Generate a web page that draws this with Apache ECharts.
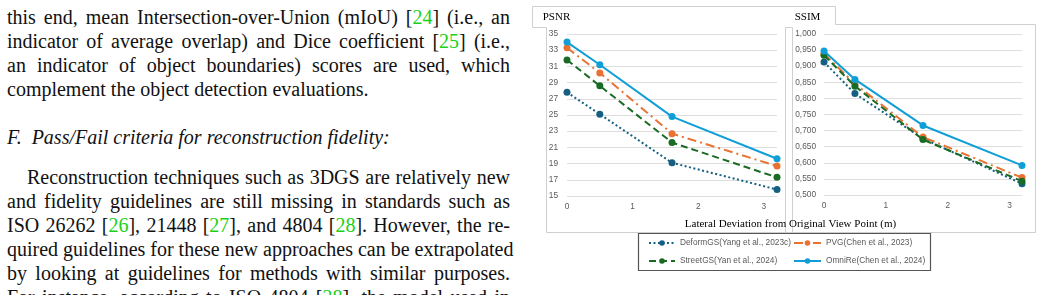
<!DOCTYPE html>
<html>
<head>
<meta charset="utf-8">
<script src="https://cdn.jsdelivr.net/npm/echarts@6/dist/echarts.min.js"></script>
<style>
  html, body { margin:0; padding:0; width:1042px; height:295px; overflow:hidden; background:#fff; }
  #text { position:absolute; left:7px; top:0; width:503px; height:295px; font-family:"Liberation Serif","Times New Roman",serif; font-size:20px; color:#111; }
  .ln { position:absolute; left:0; width:503px; height:24px; line-height:24px; white-space:nowrap; text-align:justify; text-align-last:justify; }
  .last { text-align:left; text-align-last:left; }
  .ind { padding-left:20px; width:483px; }
  .c { color:#19d119; }
  #chart { position:absolute; left:520px; top:0; width:522px; height:295px; }
</style>
</head>
<body>
<div id="text">
  <div class="ln" style="top:5px">this end, mean Intersection-over-Union (mIoU) [<span class="c">24</span>] (i.e., an</div>
  <div class="ln" style="top:29px">indicator of average overlap) and Dice coefficient [<span class="c">25</span>] (i.e.,</div>
  <div class="ln" style="top:53px">an indicator of object boundaries) scores are used, which</div>
  <div class="ln last" style="top:77px">complement the object detection evaluations.</div>
  <div class="ln last" style="top:125px"><i>F.&nbsp; Pass/Fail criteria for reconstruction fidelity:</i></div>
  <div class="ln ind" style="top:165px">Reconstruction techniques such as 3DGS are relatively new</div>
  <div class="ln" style="top:189px">and fidelity guidelines are still missing in standards such as</div>
  <div class="ln" style="top:213px">ISO 26262 [<span class="c">26</span>], 21448 [<span class="c">27</span>], and 4804 [<span class="c">28</span>]. However, the re-</div>
  <div class="ln" style="top:237px">quired guidelines for these new approaches can be extrapolated</div>
  <div class="ln" style="top:261px">by looking at guidelines for methods with similar purposes.</div>
  <div class="ln" style="top:285px">For instance, according to ISO 4804 [<span class="c">28</span>], the model used in</div>
</div>
<div id="chart"></div>
<script>
// ---- data ----
const xValues = [0, 0.5, 1.6, 3.2];
const seriesNames = ['DeformGS(Yang et al., 2023c)', 'PVG(Chen et al., 2023)', 'StreetGS(Yan et al., 2024)', 'OmniRe(Chen et al., 2024)'];
const psnrDeform = [27.8, 25.1, 19.1, 15.8];
const psnrPVG    = [33.3, 30.2, 22.7, 18.7];
const psnrStreet = [31.8, 28.6, 21.6, 17.3];
const psnrOmni   = [34.0, 31.2, 24.8, 19.6];
const ssimDeform = [0.913, 0.815, 0.675, 0.535];
const ssimPVG    = [0.939, 0.845, 0.680, 0.554];
const ssimStreet = [0.934, 0.838, 0.672, 0.543];
const ssimOmni   = [0.947, 0.859, 0.716, 0.592];
const xTicks = [0, 1, 2, 3];
const panelTitles = ['PSNR', 'SSIM'];
const xAxisTitle = 'Lateral Deviation from Original View Point (m)';

// ---- styles ----
const colors = ['#156082', '#E97132', '#196B24', '#0F9ED5'];
const dashes = [[2, 2.5], [9, 4, 2, 4], [7, 4], 'solid'];
const labelFont = { color:'#595959', fontFamily:'Liberation Sans, Arial, sans-serif', fontSize:8.3 };
const frameColor = '#cfcfcf';

function pairs(vals){ return xValues.map((x,i)=>[x, vals[i]]); }

const psnrData = [psnrDeform, psnrPVG, psnrStreet, psnrOmni];
const ssimData = [ssimDeform, ssimPVG, ssimStreet, ssimOmni];

const series = [];
[psnrData, ssimData].forEach((group, gi) => {
  group.forEach((vals, si) => {
    series.push({
      name: seriesNames[si], type:'line', xAxisIndex:gi, yAxisIndex:gi,
      data: pairs(vals), symbol:'circle', symbolSize:7, showSymbol:true,
      lineStyle:{ color:colors[si], width:2, type:dashes[si] },
      itemStyle:{ color:colors[si] },
      emphasis:{ disabled:true }, z: 2 + si
    });
  });
});

function xAxisCfg(gi){
  return {
    type:'value', gridIndex:gi, min:0, max:3.2, interval:1,
    axisLine:{show:false}, axisTick:{show:false}, splitLine:{show:false},
    axisLabel:{ ...labelFont, margin:7, formatter: v => xTicks.includes(v) ? String(v) : '' , showMaxLabel:false }
  };
}

const option = {
  animation:false,
  grid:[
    { left:47, top:34, width:210, height:162 },
    { left:304, top:34, width:198, height:161 }
  ],
  xAxis:[ xAxisCfg(0), xAxisCfg(1) ],
  yAxis:[
    { type:'value', gridIndex:0, min:15, max:35, interval:2,
      axisLine:{show:false}, axisTick:{show:false},
      splitLine:{ lineStyle:{ color:'#dedede', width:1 } },
      axisLabel:{ ...labelFont, margin:9 } },
    { type:'value', gridIndex:1, min:0.5, max:1.0, interval:0.05,
      axisLine:{show:false}, axisTick:{show:false},
      splitLine:{ lineStyle:{ color:'#dedede', width:1 } },
      axisLabel:{ ...labelFont, margin:8, formatter: v => v.toFixed(3).replace('.', ',') } }
  ],
  legend:[
    { data:[seriesNames[0], seriesNames[2]], orient:'vertical', left:128, top:238, padding:0,
      itemWidth:26, itemHeight:7, itemGap:8, textStyle:{ ...labelFont, lineHeight:10 }, selectedMode:false },
    { data:[seriesNames[1], seriesNames[3]], orient:'vertical', left:273, top:238, padding:0,
      itemWidth:27, itemHeight:7, itemGap:8, textStyle:{ ...labelFont, lineHeight:10 }, selectedMode:false }
  ],
  graphic:[
    { type:'polyline', silent:true, shape:{ points:[[12.5,27.5],[12.5,6.5],[315.5,6.5],[315.5,24.5],[515.5,24.5],[515.5,232.5],[26.5,232.5],[26.5,27.5],[12.5,27.5]] },
      style:{ stroke:frameColor, fill:null, lineWidth:1 } },
    { type:'polyline', silent:true, shape:{ points:[[265.5,232.5],[265.5,27.5],[272.5,27.5],[272.5,232.5]] },
      style:{ stroke:frameColor, fill:null, lineWidth:1 } },
    { type:'rect', silent:true, shape:{ x:118.5, y:233.5, width:292, height:37 },
      style:{ stroke:'#555555', fill:null, lineWidth:1.2 } },
    { type:'text', silent:true, x:36.5, y:17, style:{ text:panelTitles[0], fill:'#000', font:'11px "Liberation Serif", serif', textAlign:'center', textVerticalAlign:'middle' } },
    { type:'text', silent:true, x:287.5, y:17, style:{ text:panelTitles[1], fill:'#000', font:'11px "Liberation Serif", serif', textAlign:'center', textVerticalAlign:'middle' } },
    { type:'text', silent:true, x:270.5, y:224, style:{ text:xAxisTitle, fill:'#000', font:'11px "Liberation Serif", serif', textAlign:'center', textVerticalAlign:'middle' } }
  ],
  series: series
};

const chart = echarts.init(document.getElementById('chart'), null, { renderer:'canvas' });
chart.setOption(option);
</script>
</body>
</html>
